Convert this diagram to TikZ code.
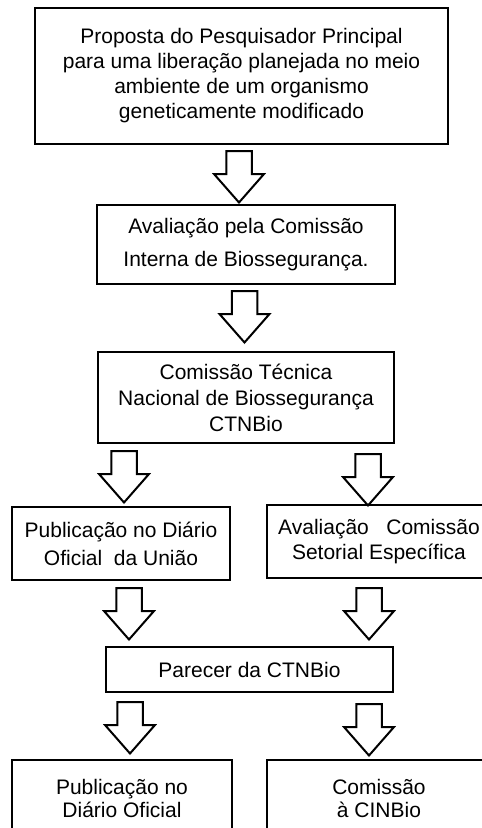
\documentclass[tikz,border=0pt]{standalone}
\usepackage{fontspec}
\setmainfont{Liberation Sans}
\usetikzlibrary{calc}
\begin{document}
\begin{tikzpicture}[x=1pt,y=-1pt,
  box/.style={draw=black, line width=2pt, fill=white, align=center, inner sep=0pt,
    font=\fontsize{21}{25}\selectfont},
  arrowline/.style={draw=black, line width=2pt, fill=white, line join=miter},
  barrow/.pic={\path[arrowline] (-12.75,0) -- (12.75,0) -- (12.75,23) -- (25,23) -- (0,51.5) -- (-25,23) -- (-12.75,23) -- cycle;}]
\useasboundingbox (0,0) rectangle (482,828);
\clip (0,0) rectangle (482,828);
\fill[white] (0,0) rectangle (482,828);

\node[box, minimum width=413pt, minimum height=136pt] (b1) at (241.5,76)
  {Proposta do Pesquisador Principal\\para uma liberação planejada no meio\\ambiente de um organismo\\geneticamente modificado};
\node[box, minimum width=298pt, minimum height=79pt, font=\fontsize{21}{33}\selectfont] (b2) at (246,244.5)
  {Avaliação pela Comissão\\Interna de Biossegurança.};
\node[box, minimum width=296pt, minimum height=91pt, font=\fontsize{21}{26}\selectfont] (b3) at (246,397.5)
  {Comissão Técnica\\Nacional de Biossegurança\\CTNBio};
\node[box, minimum width=218pt, minimum height=73pt, font=\fontsize{21}{28}\selectfont] (b4l) at (121,543.5)
  {Publicação no Diário\\Oficial\ \ da União};
\node[box, minimum width=224pt, minimum height=73pt] (b4r) at (379,541.5)
  {Avaliação\ \ \ Comissão\\Setorial Específica};
\node[box, minimum width=287pt, minimum height=45pt] (b5) at (249.5,669.5)
  {Parecer da CTNBio};
\node[box, minimum width=220pt, minimum height=77pt, font=\fontsize{21}{23}\selectfont] (b6l) at (122,798.5)
  {Publicação no\\Diário Oficial};
\node[box, minimum width=224pt, minimum height=77pt, font=\fontsize{21}{23}\selectfont] (b6r) at (379,798.5)
  {Comissão\\à CINBio};

\pic at ($(b1.south)+(-2.5,6)$) {barrow};
\pic at ($(b2.south)+(-1.5,6)$) {barrow};
\pic at ($(b3.south)+(-122,7)$) {barrow};
\pic at ($(b3.south)+(122,10)$) {barrow};
\pic at ($(b4l.south)+(8,7)$) {barrow};
\pic at ($(b4r.south)+(-10,9)$) {barrow};
\pic at ($(b5.south)+(-119.5,9)$) {barrow};
\pic at ($(b5.south)+(119.5,11)$) {barrow};
\end{tikzpicture}
\end{document}
